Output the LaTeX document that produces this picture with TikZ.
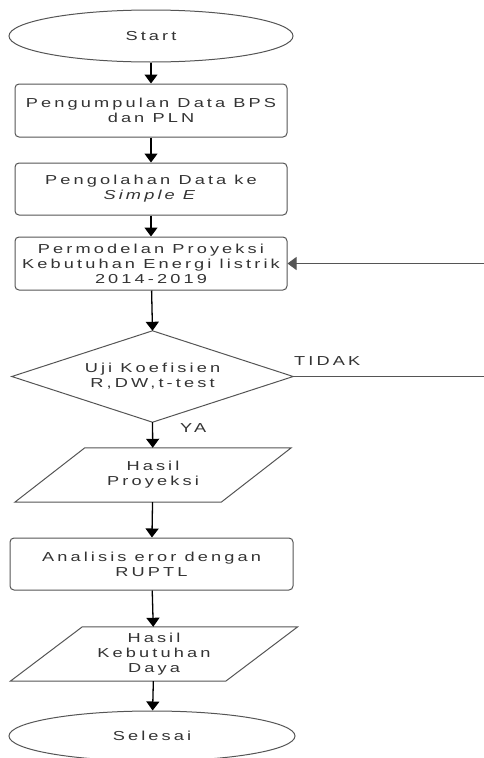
\documentclass[tikz,border=0pt]{standalone}
\usepackage{fontspec}
\setmainfont{Liberation Sans}[FakeStretch=1.4,LetterSpace=24]
\usetikzlibrary{shapes.geometric,arrows.meta}
\definecolor{txt}{HTML}{333333}
\definecolor{edge}{HTML}{555555}
\begin{document}
\begin{tikzpicture}[x=1pt,y=-1pt,
  every node/.style={font=\fontsize{13}{15}\selectfont,text=txt,align=center,inner sep=0pt},
  term/.style={ellipse,draw=edge,line width=1pt},
  procbox/.style={rectangle,rounded corners=4pt,draw=edge,line width=1pt},
  plain/.style={rectangle,draw=none},
  shapeln/.style={draw=edge,line width=1pt},
  flow/.style={black,line width=1.3pt,-{Triangle[length=9pt,width=13pt]}},
  lbl/.style={anchor=west}]
\useasboundingbox (0,0) rectangle (484,758);
\node[term,minimum width=284pt,minimum height=52pt] (start) at (151,36) {Start};
\node[procbox,minimum width=272pt,minimum height=53pt] (b1) at (151,110.5) {Pengumpulan Data BPS\\dan PLN};
\node[procbox,minimum width=272pt,minimum height=52pt] (b2) at (151,189) {Pengolahan Data ke\\\textit{Simple E}};
\node[procbox,minimum width=272pt,minimum height=53pt] (b3) at (151,263.5) {Permodelan Proyeksi\\Kebutuhan Energi listrik\\2014-2019};
\node[plain,minimum width=281pt,minimum height=91pt] (d) at (152.5,376.5) {Uji Koefisien\\R,DW,t-test};
\draw[shapeln] (d.west) -- (d.north) -- (d.east) -- (d.south) -- cycle;
\node[plain,minimum width=206pt,minimum height=54pt] (p1) at (153,475) {Hasil\\Proyeksi};
\draw[shapeln] ([xshift=35pt]p1.north west) -- ([xshift=35pt]p1.north east) -- ([xshift=-35pt]p1.south east) -- ([xshift=-35pt]p1.south west) -- cycle;
\node[procbox,minimum width=283pt,minimum height=52pt] (b4) at (151.5,564) {Analisis eror dengan\\RUPTL};
\node[plain,minimum width=215pt,minimum height=54pt] (p2) at (154,654) {Hasil\\Kebutuhan\\Daya};
\draw[shapeln] ([xshift=36pt]p2.north west) -- ([xshift=36pt]p2.north east) -- ([xshift=-36pt]p2.south east) -- ([xshift=-36pt]p2.south west) -- cycle;
\node[term,minimum width=286pt,minimum height=50pt] (end) at (152,736) {Selesai};
\coordinate (c1) at (490,376.5);
\coordinate (c2) at (490,263.5);
\draw[flow] (start) -- (b1);
\draw[flow] (b1) -- (b2);
\draw[flow] (b2) -- (b3);
\draw[flow] (b3) -- (d.north);
\draw[flow] (d.south) -- (p1);
\draw[flow] (p1) -- (b4);
\draw[flow] (b4) -- (p2);
\draw[flow] (p2) -- (end);
\draw[flow,line width=1pt,draw=edge] (d.east) -- (c1) -- (c2) -- (b3.east);
\node[lbl] (tidak) at (294,361) {TIDAK};
\node[lbl] (ya) at (180,428) {YA};
\end{tikzpicture}
\end{document}
